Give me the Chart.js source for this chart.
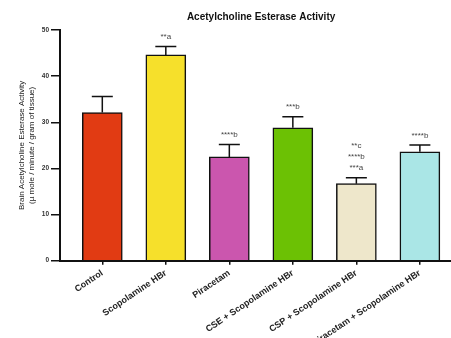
<!DOCTYPE html>
<html>
<head>
<meta charset="utf-8">
<script src="https://cdn.jsdelivr.net/npm/chart.js@4/dist/chart.umd.min.js"></script>
<style>
  html, body { margin: 0; padding: 0; background: #fff; overflow: hidden; }
  #wrap { width: 451px; height: 338px; position: relative; }
</style>
</head>
<body>
<div id="wrap"><canvas id="c"></canvas></div>
<script>
const categories = ['Control', 'Scopolamine HBr', 'Piracetam', 'CSE + Scopolamine HBr', 'CSP + Scopolamine HBr', 'Piracetam + Scopolamine HBr'];
const means = [32.1, 44.6, 22.5, 28.8, 16.7, 23.6];
const errors = [3.5, 1.8, 2.7, 2.4, 1.3, 1.5];
const significance = [[], ['**a'], ['****b'], ['***b'], ['**c', '****b', '***a'], ['****b']];
const barColors = ['#E13B13', '#F6E02B', '#CB56AE', '#6CC104', '#EEE7CB', '#AAE6E6'];
const yTicks = [0, 10, 20, 30, 40, 50];
const chartTitle = 'Acetylcholine Esterase Activity';
const yTitle = ['Brain Acetylcholine Esterase Activity', '(\u00b5 mole / minute / gram of tissue)'];

const errorBarPlugin = {
  id: 'errorBars',
  afterDatasetsDraw(chart) {
    const {ctx, scales: {x, y}} = chart;
    ctx.save();
    ctx.strokeStyle = '#111';
    ctx.lineWidth = 1.5;
    means.forEach((m, i) => {
      const px = x.getPixelForValue(i);
      const top = y.getPixelForValue(m + errors[i]);
      const base = y.getPixelForValue(m);
      ctx.beginPath();
      ctx.moveTo(px, base);
      ctx.lineTo(px, top);
      ctx.moveTo(px - 10.5, top);
      ctx.lineTo(px + 10.5, top);
      ctx.stroke();
      ctx.fillStyle = '#444';
      ctx.font = '8px "Liberation Sans", Arial, sans-serif';
      ctx.textAlign = 'center';
      ctx.textBaseline = 'middle';
      const lines = significance[i];
      for (let k = 0; k < lines.length; k++) {
        const yy = top - 9.5 - (lines.length - 1 - k) * 11.2;
        ctx.fillText(lines[k], px, yy);
      }
    });
    ctx.restore();
  }
};

const titlePlugin = {
  id: 'centerTitle',
  afterDraw(chart) {
    const {ctx, scales: {x}} = chart;
    ctx.save();
    ctx.fillStyle = '#111';
    ctx.font = 'bold 10px "Liberation Sans", Arial, sans-serif';
    ctx.textAlign = 'center';
    ctx.textBaseline = 'middle';
    ctx.fillText(chartTitle, x.getPixelForValue((categories.length - 1) / 2), 17);
    ctx.restore();
  }
};

new Chart(document.getElementById('c'), {
  type: 'bar',
  data: {
    datasets: [{
      data: means.map((v, i) => ({x: i, y: v})),
      backgroundColor: barColors,
      borderColor: '#111',
      borderWidth: 1.5,
      barThickness: 40
    }]
  },
  options: {
    responsive: true,
    maintainAspectRatio: false,
    animation: false,
    layout: {padding: {top: 30, left: 0, right: 0, bottom: 0}},
    plugins: {legend: {display: false}, tooltip: {enabled: false}, title: {display: false}},
    scales: {
      x: {
        type: 'linear',
        offset: false,
        min: -0.666,
        max: 5.49,
        afterBuildTicks(scale) { scale.ticks = categories.map((_, i) => ({value: i})); },
        afterFit(scale) { scale.height = 77.3; },
        grid: {display: true, offset: false, drawOnChartArea: false, drawTicks: true, tickLength: 4, color: '#111', lineWidth: 1.5},
        border: {display: true, color: '#111', width: 2},
        ticks: {
          autoSkip: false,
          minRotation: 34,
          maxRotation: 34,
          padding: 3,
          color: '#222',
          font: {family: '"Liberation Sans", Arial, sans-serif', size: 9, weight: 'bold'},
          callback: (v) => categories[v]
        }
      },
      y: {
        min: 0,
        max: 50,
        afterBuildTicks(scale) { scale.ticks = yTicks.map(v => ({value: v})); },
        afterFit(scale) { scale.width = 60; },
        grid: {display: true, drawOnChartArea: false, drawTicks: true, tickLength: 9, color: '#111', lineWidth: 1.5},
        border: {display: true, color: '#111', width: 2},
        ticks: {
          padding: 2,
          color: '#333',
          font: {family: '"Liberation Sans", Arial, sans-serif', size: 6.5, weight: 'bold'}
        },
        title: {
          display: true,
          text: yTitle,
          color: '#222',
          padding: {top: 17, bottom: 0},
          font: {family: '"Liberation Sans", Arial, sans-serif', size: 8, lineHeight: 1.25}
        }
      }
    }
  },
  plugins: [errorBarPlugin, titlePlugin]
});
</script>
</body>
</html>
